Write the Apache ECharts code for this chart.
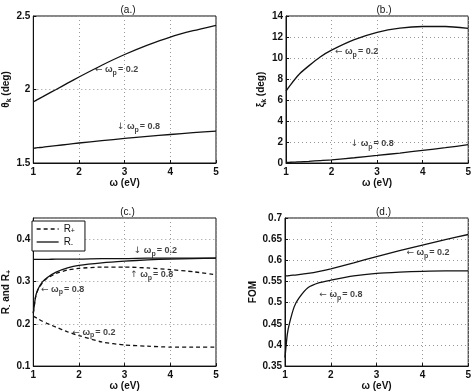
<!DOCTYPE html>
<html><head><meta charset="utf-8">
<script src="https://cdn.jsdelivr.net/npm/echarts@6/dist/echarts.min.js"></script>
<style>html,body{margin:0;padding:0;background:#fff}#c{width:474px;height:392px}</style>
</head><body><div id="c"></div>
<script>
const omega = [1, 1.05, 1.1, 1.2, 1.3, 1.5, 1.75, 2, 2.5, 3, 3.5, 4, 4.5, 5];
const thetaK_02 = [1.915, 1.924, 1.933, 1.95, 1.967, 2.0, 2.043, 2.085, 2.165, 2.238, 2.302, 2.357, 2.40, 2.437];
const thetaK_08 = [1.600, 1.602, 1.604, 1.607, 1.611, 1.618, 1.627, 1.636, 1.652, 1.667, 1.681, 1.694, 1.706, 1.717];
const xiK_02 = [6.85, 7.15, 7.45, 8.0, 8.5, 9.25, 10.1, 10.75, 11.75, 12.45, 12.85, 13.0, 13.0, 12.83];
const xiK_08 = [0.05, 0.06, 0.07, 0.09, 0.11, 0.16, 0.23, 0.3, 0.5, 0.72, 0.95, 1.2, 1.46, 1.74];
const Rminus_02 = [0.352, 0.352, 0.352, 0.352, 0.352, 0.353, 0.353, 0.353, 0.354, 0.354, 0.355, 0.355, 0.355, 0.355];
const Rminus_08 = [0.225, 0.264, 0.281, 0.299, 0.309, 0.322, 0.332, 0.338, 0.344, 0.348, 0.351, 0.353, 0.354, 0.355];
const Rplus_08 = [0.225, 0.263, 0.280, 0.297, 0.307, 0.319, 0.327, 0.331, 0.334, 0.334, 0.332, 0.328, 0.323, 0.316];
const Rplus_02 = [0.218, 0.215, 0.212, 0.206, 0.201, 0.192, 0.181, 0.172, 0.157, 0.150, 0.147, 0.145, 0.145, 0.145];
const fom_02 = [0.563, 0.563, 0.564, 0.565, 0.566, 0.569, 0.574, 0.580, 0.594, 0.609, 0.623, 0.636, 0.649, 0.661];
const fom_08 = [0.37, 0.425, 0.452, 0.49, 0.51, 0.535, 0.547, 0.553, 0.563, 0.569, 0.572, 0.574, 0.575, 0.575];
const xTicks = [1, 2, 3, 4, 5];
const panelTitles = ['(a.)', '(b.)', '(c.)', '(d.)'];
// annotation anchors in data coordinates: [panel, omega, value, arrow, omega_p]
const notes = [
  [0, 2.35, 2.133, '←', '0.2'],
  [0, 2.83, 1.745, '↓', '0.8'],
  [1, 2.075, 10.57, '←', '0.2'],
  [1, 2.42, 1.81, '↓', '0.8'],
  [2, 3.2, 0.372, '↓', '0.2'],
  [2, 3.12, 0.316, '↑', '0.8'],
  [2, 1.17, 0.281, '←', '0.8'],
  [2, 1.855, 0.18, '←', '0.2'],
  [3, 3.65, 0.618, '←', '0.2'],
  [3, 1.75, 0.519, '←', '0.8']
];

const FONT = 'Liberation Sans, Arial, sans-serif';
const INK = '#111';
const grids = [
  {left: 30, top: 16, width: 186, height: 147},
  {left: 286, top: 16, width: 186, height: 147},
  {left: 29, top: 218, width: 187, height: 149},
  {left: 285, top: 218, width: 187, height: 149}
];
const yCfg = [
  {min: 1.5, max: 2.5, interval: 0.5, name: 'θ{sub|k} (deg)', gap: 17},
  {min: 0, max: 14, interval: 2, name: 'ξ{sub|k} (deg)', gap: 13},
  {min: 0.1, max: 0.45, interval: 0.1, name: 'R{sub|-} and R{sub|+}', gap: 16},
  {min: 0.35, max: 0.7, interval: 0.05, name: 'FOM', gap: 24}
];
const pair = (ys) => omega.map((x, i) => [x, ys[i]]);
const subRich = {
  sub: {fontSize: 7, fontWeight: 'bold', fontFamily: FONT, color: INK, padding: [6, 0, 0, 0]}
};

const xAxis = grids.map((g, i) => ({
  type: 'value', gridIndex: i, min: 1, max: 5, interval: 1,
  name: 'ω (eV)', nameLocation: 'middle', nameGap: 14,
  nameTextStyle: {fontFamily: FONT, fontSize: 10, fontWeight: 'bold', color: INK},
  axisLine: {show: true, onZero: false, lineStyle: {color: INK, width: 1}},
  axisTick: {show: true, inside: true, length: 3, lineStyle: {color: INK}},
  axisLabel: {fontFamily: FONT, fontSize: 10, fontWeight: 'bold', color: INK, margin: 4,
              formatter: v => xTicks.includes(v) ? String(v) : ''},
  splitLine: {show: true, lineStyle: {type: [1, 3], color: '#999', width: 1}}
}));
const yAxis = yCfg.map((c, i) => ({
  type: 'value', gridIndex: i, min: c.min, max: c.max, interval: c.interval,
  name: c.name, nameLocation: 'middle', nameGap: c.gap, nameRotate: 90,
  nameTextStyle: {fontFamily: FONT, fontSize: 10, fontWeight: 'bold', color: INK, rich: subRich},
  axisLine: {show: true, onZero: false, lineStyle: {color: INK, width: 1}},
  axisTick: {show: true, inside: true, length: 3, lineStyle: {color: INK}},
  axisLabel: {fontFamily: FONT, fontSize: 10, fontWeight: 'bold', color: INK, margin: 3,
              showMaxLabel: i !== 2},
  splitLine: {show: true, lineStyle: {type: [1, 3], color: '#999', width: 1}}
}));

function line(name, i, ys, dashed) {
  return {
    type: 'line', name: name, xAxisIndex: i, yAxisIndex: i, data: pair(ys),
    showSymbol: false, symbol: 'none', smooth: 0.2,
    lineStyle: {color: INK, width: 1.3, type: dashed ? [4, 3] : 'solid'},
    itemStyle: {color: INK}, z: 3, silent: true, animation: false
  };
}
const series = [
  line('a02', 0, thetaK_02), line('a08', 0, thetaK_08),
  line('b02', 1, xiK_02), line('b08', 1, xiK_08),
  line('R+', 2, Rplus_02, true), line('R+', 2, Rplus_08, true),
  line('R-', 2, Rminus_02), line('R-', 2, Rminus_08),
  line('d02', 3, fom_02), line('d08', 3, fom_08)
];
const ARROWFONT = 'DejaVu Sans, sans-serif';
[0, 1, 2, 3].forEach(p => {
  series.push({
    type: 'scatter', xAxisIndex: p, yAxisIndex: p, symbolSize: 0, silent: true, animation: false,
    data: notes.filter(n => n[0] === p).map(n => ({value: [n[1], n[2]], arrow: n[3], wp: n[4]})),
    label: {
      show: true, position: 'right', distance: 0,
      formatter: prm => `{a|${prm.data.arrow}}{t| ω}{s|p}{t|= ${prm.data.wp}}`,
      rich: {
        a: {fontFamily: ARROWFONT, fontSize: 9, color: INK},
        t: {fontFamily: FONT, fontSize: 9, fontWeight: 'bold', color: INK},
        s: {fontFamily: FONT, fontSize: 7, fontWeight: 'bold', color: INK, padding: [6, 1, 0, 0]}
      }
    }
  });
});

const chart = echarts.init(document.getElementById('c'), null, {renderer: 'canvas'});
chart.setOption({
  animation: false,
  backgroundColor: '#fff',
  title: grids.map((g, i) => ({
    text: panelTitles[i], left: g.left + g.width / 2, top: g.top - 16, textAlign: 'center',
    textStyle: {fontFamily: FONT, fontSize: 10, fontWeight: 'normal', color: INK}
  })),
  grid: grids.map(g => Object.assign({show: true, borderColor: INK, borderWidth: 1, backgroundColor: 'transparent', containLabel: false}, g)),
  legend: {
    data: ['R+', 'R-'], orient: 'vertical', left: 32, top: 221,
    itemWidth: 22, itemHeight: 8, itemGap: 2,
    borderColor: INK, borderWidth: 1, padding: [3, 10, 3, 4],
    backgroundColor: '#fff',
    itemStyle: {opacity: 0},
    lineStyle: {width: 1.3},
    formatter: n => n === 'R+' ? 'R{sub|+}' : 'R{sub|-}',
    textStyle: {fontFamily: FONT, fontSize: 10, color: INK,
      rich: {sub: {fontSize: 7, fontFamily: FONT, color: INK, padding: [5, 0, 0, 0]}}},
    selectedMode: false
  },
  xAxis: xAxis, yAxis: yAxis, series: series
});
</script></body></html>
